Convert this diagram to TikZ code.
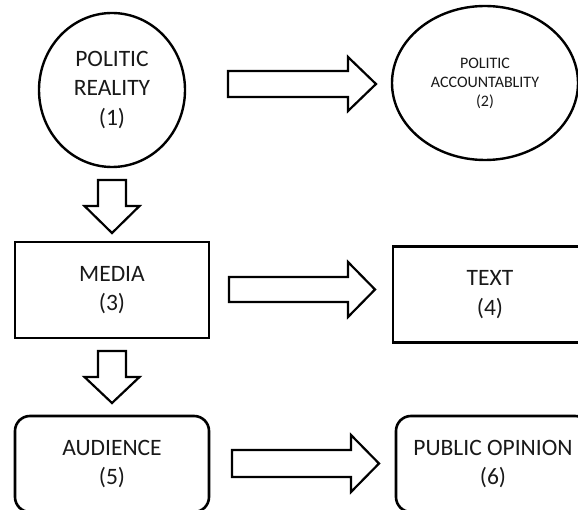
\documentclass[tikz,border=0pt]{standalone}
\usepackage{fontspec}
\setmainfont{Carlito}
\usetikzlibrary{shapes.geometric}
\definecolor{txt}{RGB}{25,25,25}
\tikzset{
  lbl/.style={align=center, text=txt, inner sep=0pt, font=\fontsize{23.5pt}{29.5pt}\selectfont},
  smalllbl/.style={align=center, text=txt, inner sep=0pt, font=\fontsize{16pt}{19pt}\selectfont},
  box/.style={lbl, draw=black, line width=2.6pt, minimum width=194pt, minimum height=96pt},
  rbox/.style={box, rounded corners=15pt},
  oval/.style={ellipse, draw=black, line width=2.4pt},
  blockarrow/.style={draw=black, line width=2.2pt, fill=white, line join=miter},
}
\begin{document}
\begin{tikzpicture}[x=1pt,y=-1pt]
  \useasboundingbox (0,0) rectangle (578,510);
  \clip (0,0) rectangle (578,510);
  \fill[white] (0,0) rectangle (578,510);
  % nodes
  \node[oval, lbl, minimum width=146pt, minimum height=154pt] (pr) at (112,90) {POLITIC\\REALITY\\(1)};
  \node[oval, smalllbl, minimum width=186pt, minimum height=154pt] (pa) at (485,83) {POLITIC\\ACCOUNTABLITY\\(2)};
  \node[box] (media) at (112,290) {MEDIA\\(3)};
  \node[box] (text) at (490,294.5) {TEXT\\(4)};
  \node[rbox] (aud) at (112,464) {AUDIENCE\\(5)};
  \node[rbox] (po) at (493,464) {PUBLIC OPINION\\(6)};
  % block arrows
  \draw[blockarrow] (228,71)--(348,71)--(348,57)--(376,84)--(348,111)--(348,97)--(228,97)--cycle;
  \draw[blockarrow] (229,277)--(348,277)--(348,262)--(375,289.5)--(348,317)--(348,302)--(229,302)--cycle;
  \draw[blockarrow] (232,450)--(351,450)--(351,435)--(379,463.5)--(351,492)--(351,477)--(232,477)--cycle;
  \draw[blockarrow] (98,180)--(126,180)--(126,206)--(139.5,206)--(112,233)--(84.5,206)--(98,206)--cycle;
  \draw[blockarrow] (98,351)--(126,351)--(126,377)--(139.5,377)--(112,403)--(84.5,377)--(98,377)--cycle;
\end{tikzpicture}
\end{document}
